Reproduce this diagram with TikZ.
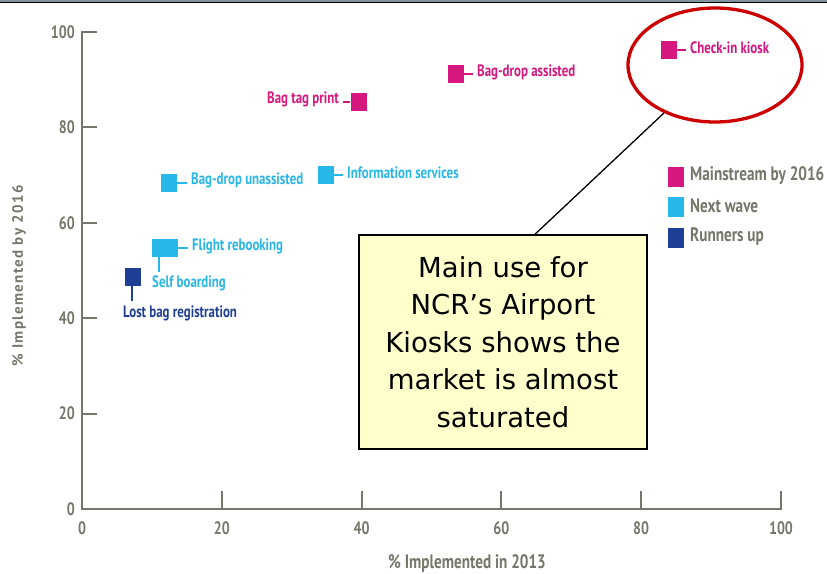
\documentclass[tikz,border=0pt]{standalone}
\usepackage{fontspec}
\usetikzlibrary{shapes.geometric,calc}
\newfontfamily\din[FakeStretch=0.78]{PT Sans}
\newfontfamily\dinwide{PT Sans}
\newfontfamily\callfont{DejaVu Sans}
\definecolor{mag}{RGB}{213,23,127}
\definecolor{cyn}{RGB}{39,183,233}
\definecolor{dblu}{RGB}{31,63,148}
\definecolor{axgray}{RGB}{118,118,106}
\definecolor{ellred}{RGB}{204,0,0}
\definecolor{callfill}{RGB}{255,255,204}
\definecolor{band}{RGB}{128,148,160}
\tikzset{
  mk/.style={rectangle, minimum width=16pt, minimum height=18pt, inner sep=0pt, fill=#1},
  ptlabel/.style={text=#1, font=\din\bfseries\fontsize{16.5}{18}\selectfont, inner xsep=4pt, inner ysep=1pt},
  leader/.style={draw=#1, line width=2pt},
  ticklab/.style={text=axgray, font=\din\bfseries\fontsize{18}{20}\selectfont, inner sep=0pt},
  legtext/.style={text=axgray, font=\din\bfseries\fontsize{19.5}{21}\selectfont, inner sep=0pt, anchor=west},
  axis/.style={draw=axgray, line width=2pt},
}
\begin{document}
\begin{tikzpicture}[x=1pt,y=-1pt]
\useasboundingbox (0,0) rectangle (827,573);
\fill[white] (0,0) rectangle (827,573);
% top band
\fill[band] (0,0) rectangle (827,2.2);
\draw[black, line width=1.2pt] (0,2.8) -- (827,2.8);

% axes
\draw[axis] (97,32) -- (82,32) -- (82,509) -- (781,509) -- (781,491);
\foreach \v in {20,40,60,80} {
  \draw[axis] (82,{509-4.77*\v}) -- (97,{509-4.77*\v});
  \draw[axis] ({82+6.99*\v},509) -- ({82+6.99*\v},491);
}
% tick labels
\foreach \v in {0,20,40,60,80,100} {
  \node[ticklab, anchor=east] (ty\v) at (75,{509-4.77*\v}) {\v};
  \node[ticklab] (tx\v) at ({82+6.99*\v},528) {\v};
}
\node[text=axgray, font=\din\bfseries\fontsize{19.5}{21}\selectfont, inner sep=0pt] (xtitle) at (467,563) {\% Implemented in 2013};
\node[text=axgray, font=\dinwide\bfseries\fontsize{15}{17}\selectfont, inner sep=0pt, rotate=90] (ytitle) at (19,276) {\addfontfeature{LetterSpace=9}\% Implemented by 2016};

% markers
\node[mk=mag] (ck) at (669,50) {};
\node[mk=mag] (bda) at (455.5,73.5) {};
\node[mk=mag] (btp) at (358.5,101.5) {};
\node[mk=cyn] (inf) at (325.5,175) {};
\node[mk=cyn] (bdu) at (169,183) {};
\node[mk=cyn] (sb) at (160,247.5) {};
\node[mk=cyn] (fr) at (170,247.5) {};
\node[mk=dblu] (lb) at (133,277) {};

% labels
\node[ptlabel=mag, anchor=west] (ckl) at (686,48) {Check-in kiosk};
\node[ptlabel=mag, anchor=west] (bdal) at (473,72) {Bag-drop assisted};
\node[ptlabel=mag, anchor=east] (btpl) at (343,99) {Bag tag print};
\node[ptlabel=cyn, anchor=west] (infl) at (343,173) {Information services};
\node[ptlabel=cyn, anchor=west] (bdul) at (187,180) {Bag-drop unassisted};
\node[ptlabel=cyn, anchor=west] (frl) at (188,246) {Flight rebooking};
\node[ptlabel=cyn, anchor=north west, inner xsep=0pt, inner ysep=4pt] (sbl) at (152,272) {Self boarding};
\node[ptlabel=dblu, anchor=north west, inner xsep=0pt, inner ysep=4.5pt] (lbl) at (123,301) {Lost bag registration};

% leaders
\draw[leader=mag] (ck.east) -- (ck.east -| ckl.west);
\draw[leader=mag] (bda.east) -- (bda.east -| bdal.west);
\draw[leader=mag] (btp.west) -- (btp.west -| btpl.east);
\draw[leader=cyn] (inf.east) -- (inf.east -| infl.west);
\draw[leader=cyn] (bdu.east) -- (bdu.east -| bdul.west);
\draw[leader=cyn] (fr.east) -- (fr.east -| frl.west);
\draw[leader=cyn] ([xshift=-1pt]sb.south) -- ([xshift=-1pt]sb.south |- sbl.north);
\draw[leader=dblu] ([xshift=-1pt]lb.south) -- ([xshift=-1pt]lb.south |- lbl.north);

% legend
\node[mk=mag, minimum height=20pt] (lg1) at (676,177) {};
\node[mk=cyn, minimum height=20pt] (lg2) at (676,207) {};
\node[mk=dblu, minimum height=20pt] (lg3) at (676,238) {};
\node[legtext] (lgt1) at (690,176) {Mainstream by 2016};
\node[legtext] (lgt2) at (690,206) {Next wave};
\node[legtext] (lgt3) at (690,237) {Runners up};

% highlight ellipse
\node[ellipse, draw=ellred, line width=3.3pt, minimum width=174pt, minimum height=114pt, inner sep=0pt] (ell) at (715,65) {};

% callout
\node[draw=black, line width=1.5pt, fill=callfill, minimum width=288pt, minimum height=214pt, inner sep=0pt,
      align=center, font=\callfont\fontsize{27.5}{37.5}\selectfont] (call) at (503,342)
  {Main use for\\NCR’s Airport\\Kiosks shows the\\market is almost\\saturated};
\draw[black, line width=1.3pt] ($(call.north)+(32,0)$) -- (ell);
\end{tikzpicture}
\end{document}
